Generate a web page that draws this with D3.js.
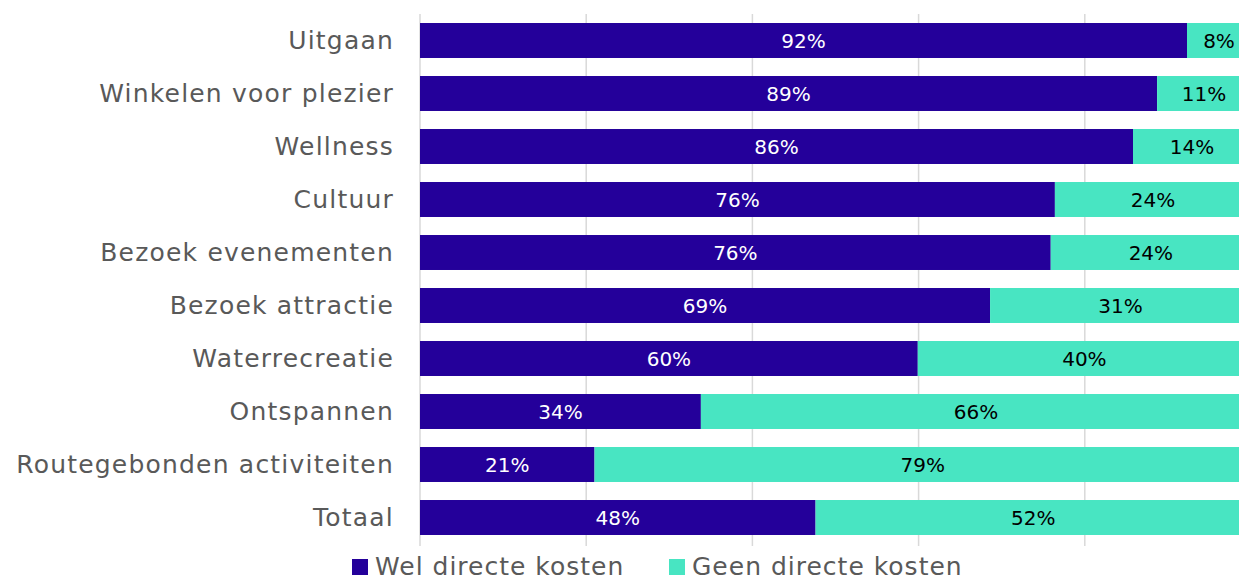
<!DOCTYPE html>
<html>
<head>
<meta charset="utf-8">
<script src="https://cdn.jsdelivr.net/npm/d3@7"></script>
<style>
  body { margin: 0; background: #fff; }
  svg { display: block; font-family: "DejaVu Sans", sans-serif; }
</style>
</head>
<body>
<svg width="1239" height="581"></svg>
<script>
var categories = ["Uitgaan", "Winkelen voor plezier", "Wellness", "Cultuur", "Bezoek evenementen",
                  "Bezoek attractie", "Waterrecreatie", "Ontspannen", "Routegebonden activiteiten", "Totaal"];
var welKosten = [92.3, 88.7, 85.8, 76.4, 75.9, 68.6, 59.9, 33.8, 21.0, 47.6];
var geenKosten = [7.7, 11.3, 14.2, 23.6, 24.1, 31.4, 40.1, 66.2, 79.0, 52.4];
var seriesNames = ["Wel directe kosten", "Geen directe kosten"];
var colors = ["#24009a", "#48e5c2"];
var xTicks = [0, 20, 40, 60, 80, 100];

var svg = d3.select("svg"),
    width = +svg.attr("width"),
    height = +svg.attr("height");

var x = d3.scaleLinear().domain([0, 100]).range([420, 1251]);
var y = d3.scaleBand().domain(categories).range([14, 544]).paddingInner(0.34).paddingOuter(0.17);

// gridlines
svg.append("g")
    .selectAll("line")
    .data(xTicks)
    .enter().append("line")
      .attr("x1", d => x(d)).attr("x2", d => x(d))
      .attr("y1", 14).attr("y2", 546)
      .style("stroke", "#d9d9d9")
      .style("stroke-width", "1.5px");

var rows = categories.map(function(c, i) {
  return {cat: c, vals: [welKosten[i], geenKosten[i]]};
});

var row = svg.append("g").selectAll("g")
    .data(rows)
    .enter().append("g");

row.each(function(d) {
  var g = d3.select(this), start = 0;
  d.vals.forEach(function(v, k) {
    g.append("rect")
        .attr("x", x(start))
        .attr("y", y(d.cat))
        .attr("width", x(start + v) - x(start))
        .attr("height", y.bandwidth())
        .style("fill", colors[k]);
    g.append("text")
        .attr("x", (x(start) + x(start + v)) / 2)
        .attr("y", y(d.cat) + y.bandwidth() / 2)
        .attr("dy", "0.36em")
        .style("text-anchor", "middle")
        .style("font-size", "20px")
        .style("fill", k == 0 ? "#fff" : "#000")
        .text(Math.round(v) + "%");
    start += v;
  });
});

// category labels
var yAxis = svg.append("g")
    .attr("transform", "translate(420,0)")
    .call(d3.axisLeft(y).tickSize(0).tickPadding(26));
yAxis.select(".domain").remove();
yAxis.selectAll("text")
    .style("font-family", "DejaVu Sans, sans-serif")
    .style("font-size", "25px")
    .style("letter-spacing", "1.2px")
    .style("fill", "#595959");

// legend
var legendX = [352, 669];
var legend = svg.append("g").selectAll("g")
    .data(seriesNames)
    .enter().append("g")
      .attr("transform", (d, i) => "translate(" + legendX[i] + ",559)");
legend.append("rect")
    .attr("width", 16).attr("height", 16)
    .style("fill", (d, i) => colors[i]);
legend.append("text")
    .attr("x", 23).attr("y", 16)
    .style("font-size", "25px")
    .style("letter-spacing", "1px")
    .style("fill", "#595959")
    .text(d => d);
</script>
</body>
</html>
